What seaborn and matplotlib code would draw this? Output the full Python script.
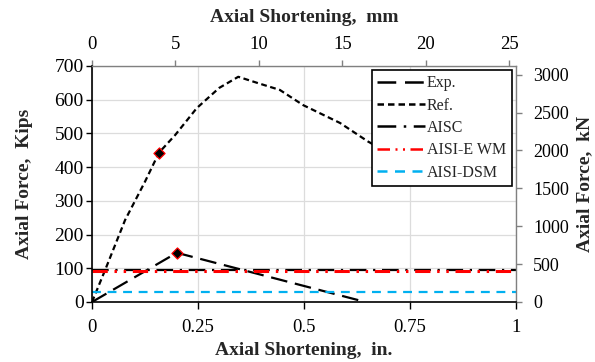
import matplotlib
matplotlib.use("Agg")
import matplotlib.pyplot as plt
import seaborn as sns
import pandas as pd

# Load-shortening curves (shortening in inches, force in kips)
exp_x = [0.0, 0.20, 0.645]
exp_y = [0.0, 146.0, 0.0]

ref_x = [0.0, 0.031, 0.078, 0.125, 0.158, 0.196, 0.247, 0.30, 0.345, 0.392, 0.443, 0.498, 0.585, 0.651, 0.75]
ref_y = [0.0, 95.0, 243.0, 357.0, 443.0, 495.0, 575.0, 635.0, 668.0, 649.0, 629.0, 584.0, 531.0, 476.0, 406.0]

# Design-code capacities (kips), drawn across the full shortening range
span_x = [0.0, 1.0]
aisc_y = 95.0
aisi_ewm_y = 92.0
aisi_dsm_y = 31.0

# Peak points highlighted on the curves
peak_x = [0.158, 0.20]
peak_y = [443.0, 146.0]

x_ticks = [0, 0.25, 0.5, 0.75, 1]
x_tick_labels = ["0", "0.25", "0.5", "0.75", "1"]
y_ticks = [0, 100, 200, 300, 400, 500, 600, 700]
mm_ticks = [0, 5, 10, 15, 20, 25]
kn_ticks = [0, 500, 1000, 1500, 2000, 2500, 3000]

KIP_TO_KN = 4.44822
IN_TO_MM = 25.4

sns.set_theme(style="white")
plt.rcParams["font.family"] = ["Liberation Serif", "DejaVu Serif"]

fig = plt.figure(figsize=(5.95, 3.62), dpi=100)
ax = fig.add_axes([92 / 595, 1 - 302 / 362, 424 / 595, 236 / 362])

series = [
    ("Exp.", exp_x, exp_y, "black", 1.6, (7.5, 3.5)),
    ("Ref.", ref_x, ref_y, "black", 1.6, (2.6, 1.6)),
    ("AISC", span_x, [aisc_y, aisc_y], "black", 1.6, (7.5, 3.0, 1.0, 3.0)),
    ("AISI-E WM", span_x, [aisi_ewm_y, aisi_ewm_y], "#FF0000", 2.2, (5.0, 2.2, 0.8, 2.2, 0.8, 2.2)),
    ("AISI-DSM", span_x, [aisi_dsm_y, aisi_dsm_y], "#00B0F0", 1.6, (4.0, 3.0)),
]

for name, xs, ys, color, lw, dash in series:
    df = pd.DataFrame({"x": xs, "y": ys})
    sns.lineplot(data=df, x="x", y="y", ax=ax, color=color, linewidth=lw,
                 label=name, sort=False, estimator=None)
    ax.lines[-1].set_dashes(dash)

pk = pd.DataFrame({"x": peak_x, "y": peak_y})
sns.scatterplot(data=pk, x="x", y="y", ax=ax, marker="D", s=32, color="black",
                edgecolor="red", linewidth=0.9, zorder=5, legend=False)

ax.set_xlim(0, 1)
ax.set_ylim(0, 700)
ax.set_xticks(x_ticks)
ax.set_xticklabels(x_tick_labels)
ax.set_yticks(y_ticks)
ax.grid(True, color="#dcdcdc", linewidth=0.9)
ax.set_axisbelow(True)

label_font = 14
ax.tick_params(axis="x", direction="out", length=5, width=1, colors="black",
               labelsize=13.5, pad=7, bottom=True)
ax.tick_params(axis="y", direction="out", length=4.5, width=1, colors="black",
               labelsize=14, pad=1.5, left=True)
for side in ("left", "bottom"):
    ax.spines[side].set_color("black")
    ax.spines[side].set_linewidth(1.2)
for side in ("top", "right"):
    ax.spines[side].set_color("#808080")
    ax.spines[side].set_linewidth(1.0)

ax.set_xlabel("Axial Shortening,  in.", fontsize=label_font, fontweight="bold", labelpad=4.5)
ax.set_ylabel("Axial Force,  Kips", fontsize=label_font, fontweight="bold")
ax.yaxis.set_label_coords(-0.138, 0.5)

top = ax.secondary_xaxis("top", functions=(lambda v: v * IN_TO_MM, lambda v: v / IN_TO_MM))
top.set_xticks(mm_ticks)
top.tick_params(direction="out", length=4.5, width=1, color="#808080", labelcolor="black",
                labelsize=13.5, pad=5)
top.set_xlabel("Axial Shortening,  mm", fontsize=label_font, fontweight="bold", labelpad=10)
top.spines["top"].set_visible(False)

right = ax.secondary_yaxis("right", functions=(lambda v: v * KIP_TO_KN, lambda v: v / KIP_TO_KN))
right.set_yticks(kn_ticks)
right.tick_params(direction="out", length=4.5, width=1, color="#808080", labelcolor="black",
                  labelsize=13, pad=8)
right.set_ylabel("Axial Force,  kN", fontsize=label_font, fontweight="bold", labelpad=5)
right.spines["right"].set_visible(False)

leg = ax.legend(loc="upper left", bbox_to_anchor=(0.66, 0.985), frameon=True, fancybox=False,
                edgecolor="black", framealpha=1, fontsize=11.5, handlelength=3.0,
                handletextpad=0.1, borderpad=0.35, labelspacing=0.4, borderaxespad=0)
leg.get_frame().set_linewidth(1.2)
for line in leg.get_lines():
    line.set_linewidth(1.8)

fig.savefig("out.png", dpi=100)
